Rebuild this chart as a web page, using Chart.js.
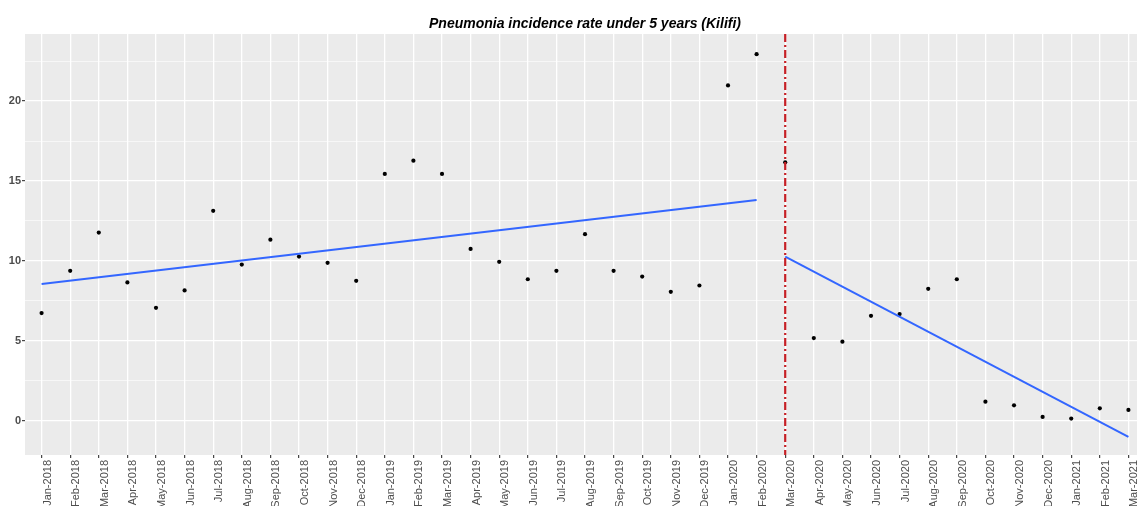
<!DOCTYPE html>
<html>
<head>
<meta charset="utf-8">
<title>Pneumonia incidence rate under 5 years (Kilifi)</title>
<script src="https://cdn.jsdelivr.net/npm/chart.js@4/dist/chart.umd.min.js"></script>
<style>
  html, body { margin: 0; padding: 0; background: #ffffff; overflow: hidden; }
  /* the panel runs on past the right edge of the frame */
  #wrap { width: 1137px; height: 506px; overflow: hidden; }
  #chart { display: block; }
</style>
</head>
<body>
<div id="wrap"><canvas id="chart" width="1141" height="506"></canvas></div>
<script>
// Monthly reporting periods (x-axis tick labels)
const months = [
  'Jan-2018','Feb-2018','Mar-2018','Apr-2018','May-2018','Jun-2018','Jul-2018','Aug-2018','Sep-2018','Oct-2018','Nov-2018','Dec-2018',
  'Jan-2019','Feb-2019','Mar-2019','Apr-2019','May-2019','Jun-2019','Jul-2019','Aug-2019','Sep-2019','Oct-2019','Nov-2019','Dec-2019',
  'Jan-2020','Feb-2020','Mar-2020','Apr-2020','May-2020','Jun-2020','Jul-2020','Aug-2020','Sep-2020','Oct-2020','Nov-2020','Dec-2020',
  'Jan-2021','Feb-2021','Mar-2021'
];

// Pneumonia incidence rate among children under 5, per month
const incidence = [
  6.73, 9.38, 11.77, 8.65, 7.06, 8.15, 13.13, 9.77, 11.33, 10.27, 9.88, 8.75,
  15.44, 16.27, 15.44, 10.75, 9.94, 8.85, 9.38, 11.67, 9.38, 9.02, 8.06, 8.46,
  20.98, 22.94, 16.17, 5.17, 4.94, 6.56, 6.67, 8.25, 8.85, 1.19, 0.96, 0.23,
  0.13, 0.77, 0.67
];

// Fitted linear trends before and after the interruption
const preTrendMonths = ['Jan-2018', 'Feb-2020'];
const preTrendValues = [8.56, 13.81];
const postTrendMonths = ['Mar-2020', 'Mar-2021'];
const postTrendValues = [10.27, -1.02];

// Interruption point (COVID-19 onset)
const interventionMonth = 'Mar-2020';

// Y-axis ticks: labelled majors and unlabelled minors
const yMajorTicks = [0, 5, 10, 15, 20];
const yMinorTicks = [2.5, 7.5, 12.5, 17.5, 22.5];

const chartTitle = 'Pneumonia incidence rate under 5 years (Kilifi)';

const FONT = "'Liberation Sans', Arial, Helvetica, sans-serif";

const toPoints = (labels, values) => labels.map((m, i) => ({ x: months.indexOf(m), y: values[i] }));

// Grey panel background behind the grid
const panelBackground = {
  id: 'panelBackground',
  beforeDraw(chart) {
    const { ctx, chartArea: a } = chart;
    ctx.save();
    ctx.fillStyle = '#ebebeb';
    ctx.fillRect(a.left, a.top, a.right - a.left, a.bottom - a.top);
    ctx.restore();
  }
};

// Dashed vertical marker at the interruption month
const interventionLine = {
  id: 'interventionLine',
  afterDatasetsDraw(chart) {
    const { ctx, chartArea: a, scales } = chart;
    const x = scales.x.getPixelForValue(months.indexOf(interventionMonth));
    ctx.save();
    ctx.beginPath();
    ctx.rect(a.left, a.top, a.right - a.left, a.bottom - a.top);
    ctx.clip();
    ctx.strokeStyle = '#c62026';
    ctx.lineWidth = 2.2;
    ctx.setLineDash([8, 3, 2, 3]);
    ctx.beginPath();
    ctx.moveTo(x, a.top);
    ctx.lineTo(x, a.bottom);
    ctx.stroke();
    ctx.restore();
  }
};

// Title centred over the monthly timeline
const centredTitle = {
  id: 'centredTitle',
  afterDraw(chart) {
    const { ctx, scales } = chart;
    const cx = scales.x.getPixelForValue((months.length - 1) / 2);
    ctx.save();
    ctx.font = "italic bold 14px " + FONT;
    ctx.fillStyle = '#000000';
    ctx.textAlign = 'center';
    ctx.textBaseline = 'alphabetic';
    ctx.fillText(chartTitle, cx, 27.5);
    ctx.restore();
  }
};

new Chart(document.getElementById('chart'), {
  type: 'scatter',
  data: {
    datasets: [
      {
        type: 'line',
        label: 'Post-interruption trend',
        data: toPoints(postTrendMonths, postTrendValues),
        borderColor: '#3366ff',
        borderWidth: 2,
        pointRadius: 0,
        fill: false,
        order: 1
      },
      {
        type: 'line',
        label: 'Pre-interruption trend',
        data: toPoints(preTrendMonths, preTrendValues),
        borderColor: '#3366ff',
        borderWidth: 2,
        pointRadius: 0,
        fill: false,
        order: 1
      },
      {
        label: 'Incidence rate',
        data: incidence.map((v, i) => ({ x: i, y: v })),
        backgroundColor: '#000000',
        borderColor: '#000000',
        pointRadius: 2.1,
        pointBorderWidth: 0,
        order: 2
      }
    ]
  },
  options: {
    responsive: false,
    animation: false,
    events: [],
    layout: { padding: { top: 34, right: 0, bottom: 0, left: 0 } },
    plugins: {
      legend: { display: false },
      tooltip: { enabled: false },
      title: { display: false }
    },
    scales: {
      x: {
        type: 'linear',
        min: -0.58,
        max: 38.3,
        afterBuildTicks(scale) {
          scale.ticks = months.map((m, i) => ({ value: i }));
        },
        afterFit(scale) {
          scale.height = 51;
          scale.paddingLeft = 0;
          scale.paddingRight = 0;
        },
        border: { display: false },
        grid: {
          color: '#ffffff',
          lineWidth: 1.3,
          drawTicks: true,
          tickLength: 3,
          tickColor: '#333333',
          tickWidth: 1.1
        },
        ticks: {
          autoSkip: false,
          minRotation: 90,
          maxRotation: 90,
          padding: 2,
          labelOffset: 6,
          color: '#4d4d4d',
          font: { family: FONT, size: 11 },
          callback: (value) => months[value] ?? ''
        }
      },
      y: {
        type: 'linear',
        min: -2.15,
        max: 24.2,
        afterBuildTicks(scale) {
          scale.ticks = [...yMajorTicks, ...yMinorTicks]
            .sort((a, b) => a - b)
            .map(v => ({ value: v }));
        },
        afterFit(scale) {
          scale.width = 25;
          scale.paddingTop = 0;
          scale.paddingBottom = 0;
        },
        border: { display: false },
        grid: {
          color: '#ffffff',
          lineWidth: (c) => yMajorTicks.includes(c.tick && c.tick.value) ? 1.3 : 0.6,
          drawTicks: true,
          tickLength: 3,
          tickColor: (c) => yMajorTicks.includes(c.tick && c.tick.value) ? '#333333' : 'rgba(0,0,0,0)',
          tickWidth: 1.1
        },
        ticks: {
          autoSkip: false,
          padding: 1,
          color: '#4d4d4d',
          font: { family: FONT, size: 11, weight: 'bold' },
          callback: (value) => yMajorTicks.includes(value) ? String(value) : ''
        }
      }
    }
  },
  plugins: [panelBackground, interventionLine, centredTitle]
});
</script>
</body>
</html>
